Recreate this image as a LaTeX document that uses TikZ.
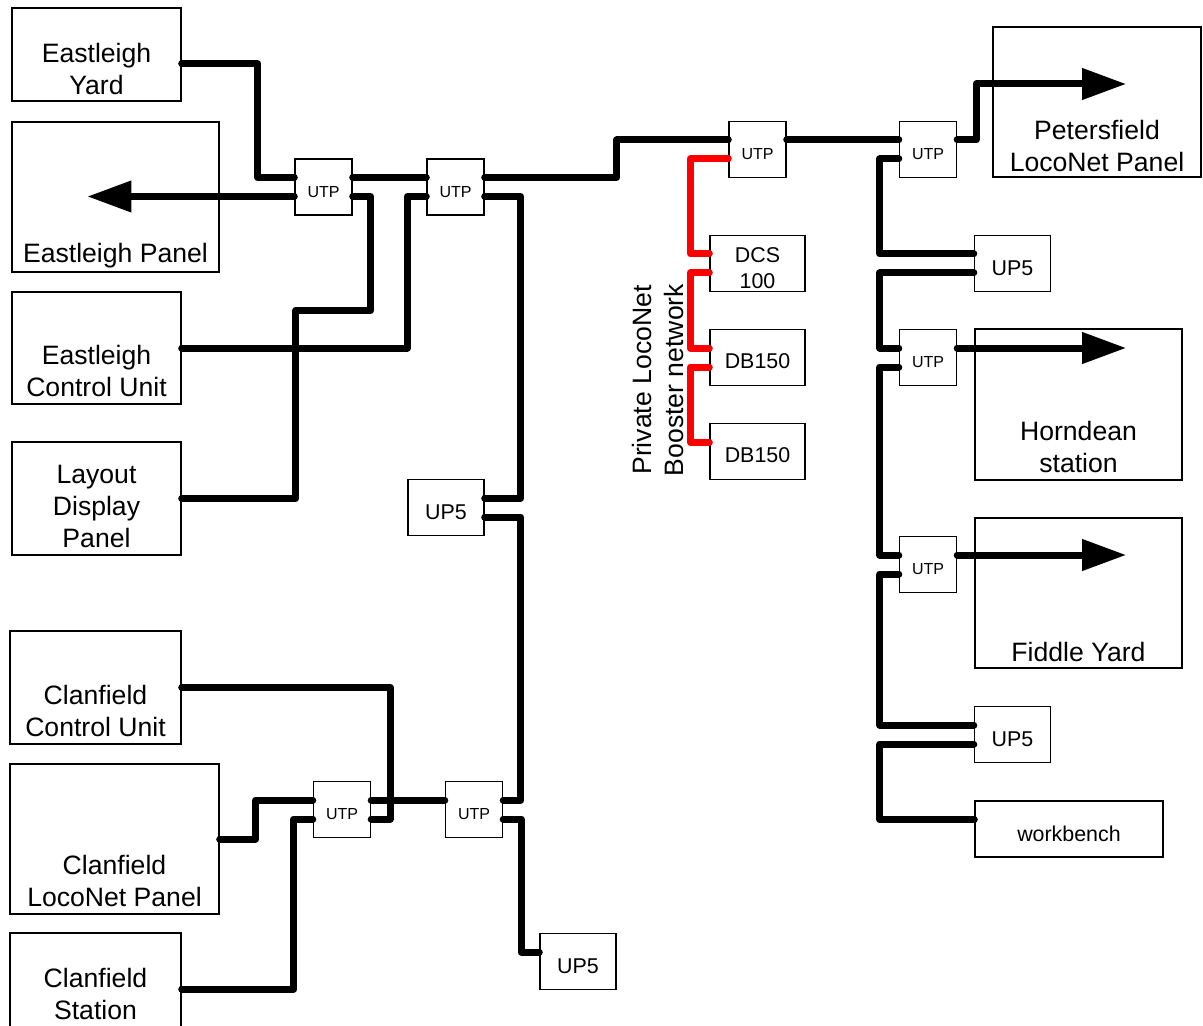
\documentclass[tikz,border=0pt]{standalone}
\usepackage{fontspec}
\setmainfont{Liberation Sans}
\usetikzlibrary{arrows.meta}

\tikzset{
  panel/.style={draw, line width=.7pt, inner sep=0pt},
  bigtxt/.style={font=\fontsize{13.3}{16}\selectfont, align=center},
  midtxt/.style={font=\fontsize{10.7}{13}\selectfont, align=center},
  utp/.style={panel, minimum width=28.5pt, minimum height=28pt,
    label={[font=\fontsize{8}{10}\selectfont, yshift=-2.5pt]center:UTP}},
  up5/.style={panel, minimum width=38pt, minimum height=28pt,
    label={[midtxt, yshift=-2.5pt]center:UP5}},
  unit/.style={panel, minimum width=47.5pt, minimum height=28pt},
  p1/.style={yshift=4.75pt}, p2/.style={yshift=-4.75pt},
  wire/.style={line width=3.5pt, line cap=round, line join=round},
  redwire/.style={wire, red},
  arrowed/.style={-{Triangle[length=22pt, width=15pt]}},
}

\begin{document}
\begin{tikzpicture}[x=0.5pt, y=-0.5pt]
  \useasboundingbox (0,0) rectangle (1203,1026);
  \clip (0,0) rectangle (1203,1026);
  % Eastleigh and Clanfield end
  \node[panel, minimum width=84.5pt, minimum height=46.5pt, label={[bigtxt, yshift=-7.25pt]center:Eastleigh\\Yard}] (eyard) at (96.5,54.5) {};
  \node[panel, minimum width=103.5pt, minimum height=75pt, label={[bigtxt, yshift=-29.5pt]center:Eastleigh Panel}] (epanel) at (115.5,197) {};
  \node[panel, minimum width=84.5pt, minimum height=56pt, label={[bigtxt, yshift=-11.5pt]center:Eastleigh\\Control Unit}] (ecu) at (96.5,348) {};
  \node[panel, minimum width=84.5pt, minimum height=56.5pt, label={[bigtxt, yshift=-4pt]center:Layout\\Display\\Panel}] (ldp) at (96.5,498.5) {};
  \node[panel, minimum width=85.5pt, minimum height=56.5pt, label={[bigtxt, yshift=-11.75pt]center:Clanfield\\Control Unit}] (ccu) at (95.5,687.5) {};
  \node[panel, minimum width=104.5pt, minimum height=75pt, label={[bigtxt, yshift=-21pt]center:Clanfield\\LocoNet Panel}] (clp) at (114.5,839) {};
  \node[panel, minimum width=85.5pt, minimum height=56pt, label={[bigtxt, yshift=-2.5pt]center:Clanfield\\Station}] (cstn) at (95.5,989) {};
  % Petersfield and Horndean end
  \node[panel, minimum width=104pt, minimum height=75pt, label={[bigtxt, yshift=-22pt]center:Petersfield\\LocoNet Panel}] (pfield) at (1097,102) {};
  \node[panel, minimum width=103.5pt, minimum height=75.5pt, label={[bigtxt, yshift=-21pt]center:Horndean\\station}] (hstn) at (1078.5,404.5) {};
  \node[panel, minimum width=103.5pt, minimum height=75pt, label={[bigtxt, yshift=-29.5pt]center:Fiddle Yard}] (fyard) at (1078.5,593) {};
  \node[panel, minimum width=94pt, minimum height=28pt, label={[midtxt, yshift=-2.5pt]center:workbench}] (wbench) at (1069,829) {};
  % panels
  \node[utp] (utpa) at (323.5,187) {};
  \node[utp] (utpb) at (455.5,187) {};
  \node[utp] (utpc) at (757.5,149.5) {};
  \node[utp] (utpd) at (928,149.5) {};
  \node[utp] (utpe) at (928,357.5) {};
  \node[utp] (utpf) at (928,564.5) {};
  \node[utp] (utpg) at (342,809.5) {};
  \node[utp] (utph) at (474,809.5) {};
  \node[up5] (upa) at (446,507.5) {};
  \node[up5] (upb) at (1012.5,263.5) {};
  \node[up5] (upc) at (1012.5,734.5) {};
  \node[up5] (upd) at (578,961.5) {};
  % boosters
  \node[unit, label={[midtxt, yshift=-2.25pt]center:DCS\\100}] (dcs) at (757.5,263.5) {};
  \node[unit, label={[midtxt, yshift=-1.75pt]center:DB150}] (dba) at (757.5,357.5) {};
  \node[unit, label={[midtxt, yshift=-1.75pt]center:DB150}] (dbb) at (757.5,451.5) {};
  \node[bigtxt, rotate=90] (bnet) at (658,380) {Private LocoNet\\Booster network};

  % main LocoNet
  \draw[wire] ([p2]eyard.east) -- ++(76,0) |- ([p1]utpa.west);
  \draw[wire, arrowed] ([p2]utpa.west) -- ++(-207,0);
  \draw[wire] ([p1]utpa.east) -- ([p1]utpb.west);
  \draw[wire] ([p2]utpa.east) -- ++(18,0) -- ++(0,114) -- ++(-75,0) |- (ldp.east);
  \draw[wire] ([p2]utpb.west) -- ++(-19,0) |- (ecu.east);
  \draw[wire] ([p1]utpb.east) -- ++(132,0) |- ([p1]utpc.west);
  \draw[wire] ([p2]utpb.east) -- ++(36,0) |- ([p1]upa.east);
  \draw[wire] ([p2]upa.east) -- ++(36,0) |- ([p1]utph.east);
  \draw[wire] ([p2]utph.east) -- ++(18,0) |- ([p1]upd.west);
  \draw[wire] ([p1]utph.west) -- ([p1]utpg.east);
  \draw[wire] ([p2]utpg.east) -- ++(19,0) |- (ccu.east);
  \draw[wire] ([p1]utpg.west) -- ++(-57,0) |- (clp.east);
  \draw[wire] ([p2]utpg.west) -- ++(-19,0) |- (cstn.east);
  \draw[wire] ([p1]utpc.east) -- ([p1]utpd.west);
  \draw[wire, arrowed] ([p1]utpd.east) -- ++(19,0) -- ++(0,-56) -- ++(150,0);
  \draw[wire] ([p2]utpd.west) -- ++(-19,0) |- ([p1]upb.west);
  \draw[wire] ([p2]upb.west) -- ++(-94,0) |- ([p1]utpe.west);
  \draw[wire, arrowed] ([p1]utpe.east) -- ++(169,0);
  \draw[wire] ([p2]utpe.west) -- ++(-19,0) |- ([p1]utpf.west);
  \draw[wire, arrowed] ([p1]utpf.east) -- ++(169,0);
  \draw[wire] ([p2]utpf.west) -- ++(-19,0) |- ([p1]upc.west);
  \draw[wire] ([p2]upc.west) -- ++(-94,0) |- ([p1]wbench.west);
  % private booster network
  \draw[redwire] ([p2]utpc.west) -- ++(-38,0) |- ([p1]dcs.west);
  \draw[redwire] ([p2]dcs.west) -- ++(-19,0) |- ([p1]dba.west);
  \draw[redwire] ([p2]dba.west) -- ++(-19,0) |- ([p1]dbb.west);
\end{tikzpicture}
\end{document}
